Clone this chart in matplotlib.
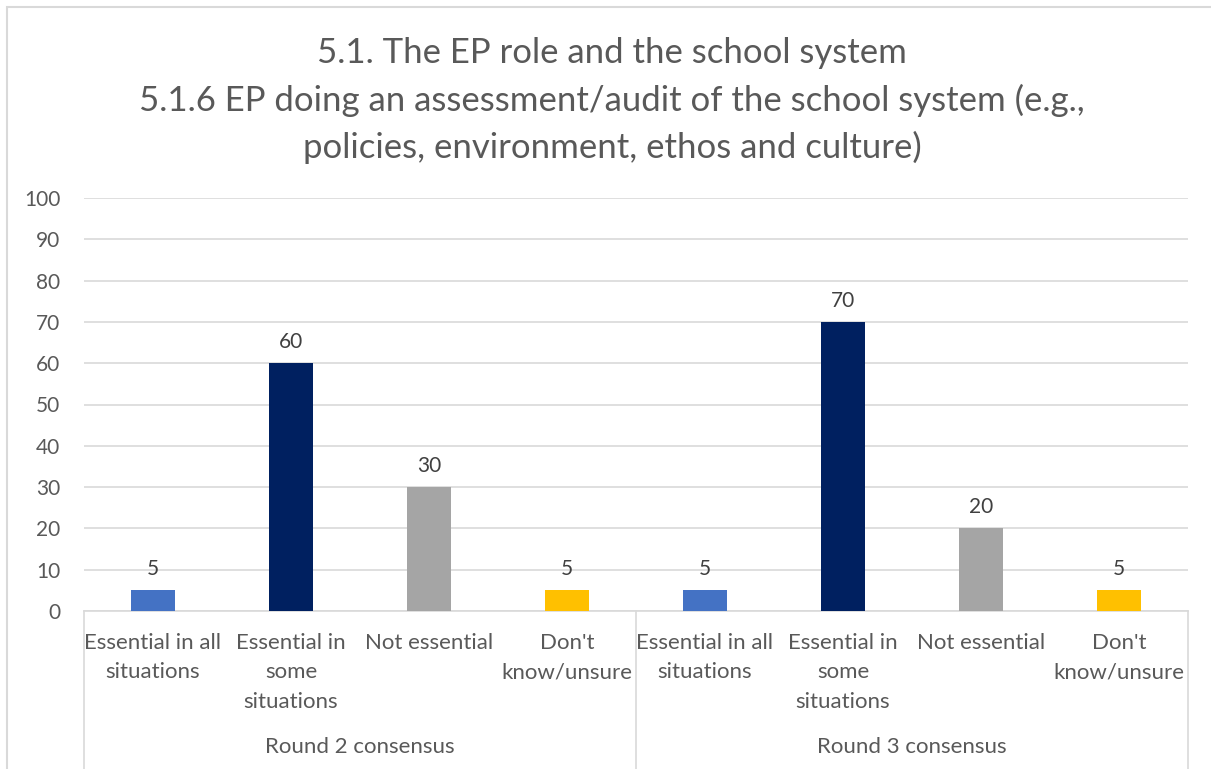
import matplotlib
matplotlib.use("Agg")
import matplotlib.pyplot as plt
from matplotlib.lines import Line2D
from matplotlib.patches import Rectangle

plt.rcParams['font.family'] = ['Lato', 'DejaVu Sans']

title_lines = [
    "5.1. The EP role and the school system",
    "5.1.6 EP doing an assessment/audit of the school system (e.g.,",
    "policies, environment, ethos and culture)",
]
groups = ["Round 2 consensus", "Round 3 consensus"]
categories = ["Essential in all\nsituations", "Essential in\nsome\nsituations",
              "Not essential", "Don't\nknow/unsure"]
values = [
    [5, 60, 30, 5],   # Round 2 consensus
    [5, 70, 20, 5],   # Round 3 consensus
]
bar_colors = ["#4472C4", "#002060", "#A5A5A5", "#FFC000"]
y_ticks = list(range(0, 101, 10))

W, H = 1211, 769
fig = plt.figure(figsize=(W / 100, H / 100), dpi=100)

# plot area in pixel units
px_left, px_right, px_top, px_bottom = 84, 1188, 198, 611
ax = fig.add_axes([px_left / W, 1 - px_bottom / H,
                   (px_right - px_left) / W, (px_bottom - px_top) / H])

text_col = "#595959"
grid_col = "#D9D9D9"

n_cat = len(categories)
xs, hs, cs = [], [], []
for g, vals in enumerate(values):
    for i, v in enumerate(vals):
        xs.append(g * n_cat + i)
        hs.append(v)
        cs.append(bar_colors[i])

ax.bar(xs, hs, width=0.32, color=cs, zorder=3)
for x, h in zip(xs, hs):
    ax.annotate(f"{h}", (x, h), xytext=(0, 8), textcoords="offset points",
                ha="center", va="bottom", fontsize=15, color="#404040")

ax.set_xlim(-0.5, len(xs) - 0.5)
ax.set_ylim(0, 100)
ax.set_yticks(y_ticks)
ax.tick_params(axis="y", length=0, labelsize=15, labelcolor=text_col, pad=17)
ax.set_xticks([])
ax.grid(axis="y", color=grid_col, linewidth=1.2, zorder=0)
for s in ["top", "right", "left"]:
    ax.spines[s].set_visible(False)
ax.spines["bottom"].set_color(grid_col)
ax.spines["bottom"].set_linewidth(1.2)

# category labels
for x in xs:
    label = categories[x % n_cat]
    ax.text(x, -0.053, label, transform=ax.get_xaxis_transform(),
            ha="center", va="top", fontsize=16, color=text_col,
            linespacing=1.6)

# group labels and separators
for g, name in enumerate(groups):
    cx = g * n_cat + (n_cat - 1) / 2
    ax.text(cx, -0.33, name, transform=ax.get_xaxis_transform(),
            ha="center", va="center", fontsize=16, color=text_col)
for k in range(len(groups) + 1):
    xd = k * n_cat - 0.5
    ax.add_line(Line2D([xd, xd], [0, -0.5], transform=ax.get_xaxis_transform(),
                       color=grid_col, linewidth=1.2, clip_on=False))

# title
for i, line in enumerate(title_lines):
    fig.text(612 / W, 1 - (53 + i * 47) / H, line, ha="center", va="center",
             fontsize=25, color=text_col)

# chart border
fig.add_artist(Rectangle((7 / W, -0.1), 1.2, 1 - 7 / H + 0.1,
                         transform=fig.transFigure, fill=False,
                         edgecolor=grid_col, linewidth=1.5))

fig.savefig("out.png", dpi=100)
